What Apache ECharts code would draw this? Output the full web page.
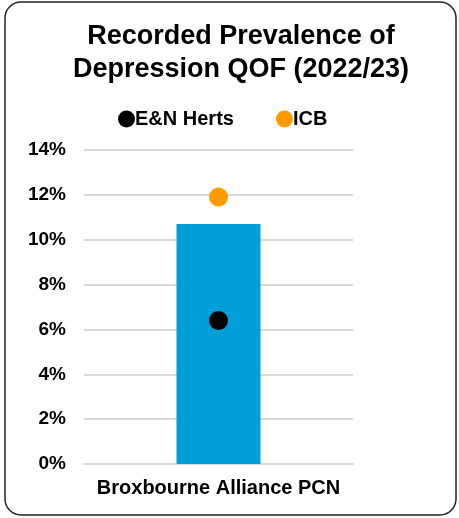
<!DOCTYPE html>
<html>
<head>
<meta charset="utf-8">
<script src="https://cdn.jsdelivr.net/npm/echarts@6/dist/echarts.min.js"></script>
<style>
  html, body { margin: 0; padding: 0; background: #fff; }
  #chart { width: 459px; height: 518px; }
</style>
</head>
<body>
<div id="chart"></div>
<script>
var categories = ['Broxbourne Alliance PCN'];
var pcnValues = [10.7];
var enHertsValues = [6.4];
var icbValues = [11.9];

var chart = echarts.init(document.getElementById('chart'));
var font = 'Arial, "Liberation Sans", sans-serif';

var option = {
  backgroundColor: '#fff',
  animation: false,
  graphic: [{
    type: 'rect',
    shape: { x: 5, y: 2, width: 451, height: 513, r: 16 },
    style: { fill: 'none', stroke: '#222', lineWidth: 1.5 },
    silent: true
  }],
  title: {
    text: 'Recorded Prevalence of\nDepression QOF (2022/23)',
    left: 236,
    textAlign: 'center',
    top: 15,
    textStyle: { fontFamily: font, fontWeight: 'bold', fontSize: 27, lineHeight: 33, color: '#000' }
  },
  legend: {
    data: ['E&N Herts', 'ICB'],
    left: 113,
    top: 104,
    icon: 'circle',
    itemWidth: 17,
    itemHeight: 17,
    itemGap: 42,
    textStyle: { fontFamily: font, fontWeight: 'bold', fontSize: 20, color: '#000', padding: [0, 0, 0, -5] }
  },
  grid: { left: 84, right: 106, top: 150, bottom: 54, containLabel: false },
  xAxis: {
    type: 'category',
    data: categories,
    axisLine: { show: true, lineStyle: { color: '#d9d9d9', width: 2 } },
    axisTick: { show: false },
    axisLabel: { fontFamily: font, fontWeight: 'bold', fontSize: 20, color: '#000', margin: 14 }
  },
  yAxis: {
    type: 'value',
    min: 0,
    max: 14,
    interval: 2,
    axisLine: { show: false },
    axisTick: { show: false },
    splitLine: { lineStyle: { color: '#d9d9d9', width: 2 } },
    axisLabel: { formatter: '{value}%', fontFamily: font, fontWeight: 'bold', fontSize: 19, color: '#000', margin: 18 }
  },
  series: [
    {
      name: 'Broxbourne Alliance PCN',
      type: 'bar',
      data: pcnValues,
      barWidth: 84,
      itemStyle: { color: '#009fd9' }
    },
    {
      name: 'E&N Herts',
      type: 'scatter',
      data: enHertsValues,
      symbolSize: 19,
      itemStyle: { color: '#000', opacity: 1 },
      z: 5
    },
    {
      name: 'ICB',
      type: 'scatter',
      data: icbValues,
      symbolSize: 19,
      itemStyle: { color: '#ff9a00', opacity: 1 },
      z: 5
    }
  ]
};

chart.setOption(option);
</script>
</body>
</html>
